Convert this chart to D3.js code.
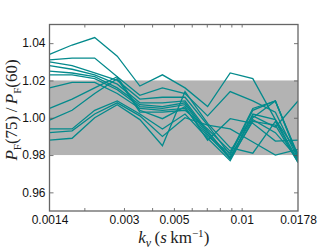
<!DOCTYPE html>
<html>
<head>
<meta charset="utf-8">
<script src="https://cdn.jsdelivr.net/npm/d3@7"></script>
<style>
  html, body { margin: 0; padding: 0; background: #fff; }
  svg { display: block; }
</style>
</head>
<body>
<div id="chart"></div>
<script>
// k_v sample points (s/km)
var kValues = [0.0014, 0.001764, 0.002223, 0.0028, 0.003529, 0.004446, 0.005602, 0.00706, 0.008895, 0.01121, 0.01412, 0.0178];

// P_F(75)/P_F(60) for each realisation
var ratio01 = [1.034, 1.039, 1.043, 1.033, 1.017, 1.023, 1.016, 1.006, 1.024, 1.021, 0.999, 0.981];
var ratio02 = [1.031, 1.032, 1.032, 1.022, 1.012, 1.016, 1.013, 1.001, 1.014, 1.009, 1.003, 0.978];
var ratio03 = [1.030, 1.028, 1.024, 1.020, 1.010, 1.011, 1.011, 0.996, 0.980, 1.004, 1.009, 0.979];
var ratio04 = [1.028, 1.026, 1.023, 1.018, 1.008, 1.008, 1.009, 0.993, 0.978, 1.002, 0.999, 0.977];
var ratio05 = [1.025, 1.024, 1.022, 1.016, 1.007, 1.006, 1.008, 0.992, 0.979, 1.000, 1.009, 0.980];
var ratio06 = [1.023, 1.023, 1.021, 1.015, 1.006, 1.005, 1.007, 0.991, 0.978, 0.998, 0.996, 0.976];
var ratio07 = [1.016, 1.019, 1.019, 1.013, 1.005, 1.004, 1.005, 0.990, 0.981, 1.005, 1.009, 0.979];
var ratio08 = [1.005, 1.010, 1.016, 1.022, 1.004, 0.9995, 1.006, 0.988, 0.9995, 0.997, 0.9875, 0.988];
var ratio09 = [0.9987, 1.004, 1.013, 1.021, 1.003, 1.003, 1.004, 0.994, 0.982, 1.001, 0.995, 1.009];
var ratio10 = [0.994, 0.994, 1.004, 1.009, 1.002, 0.994, 1.002, 0.989, 0.977, 0.999, 0.992, 0.978];
var ratio11 = [0.992, 0.993, 1.002, 1.008, 1.001, 0.990, 1.000, 0.996, 0.994, 0.987, 0.980, 0.983];
var ratio12 = [0.988, 0.989, 1.000, 1.007, 0.999, 0.985, 1.014, 0.997, 0.984, 0.981, 0.998, 0.976];
var allRatios = [ratio01, ratio02, ratio03, ratio04, ratio05, ratio06, ratio07, ratio08, ratio09, ratio10, ratio11, ratio12];

// shaded +-2% band
var band = [0.98, 1.02];

// ticks
var xTickValues = [0.0014, 0.003, 0.005, 0.01, 0.0178];
var xTickLabels = ['0.0014', '0.003', '0.005', '0.01', '0.0178'];
var xMinorTicks = [0.002, 0.003, 0.004, 0.005, 0.006, 0.007, 0.008, 0.009, 0.01];
var yTickValues = [0.96, 0.98, 1.00, 1.02, 1.04];

var svgWidth = 332, svgHeight = 249;
var margin = {top: 24.5, right: 34, bottom: 38, left: 49.5};
var w = svgWidth - margin.left - margin.right;
var h = svgHeight - margin.top - margin.bottom;

var svg = d3.select('#chart').append('svg')
  .attr('width', svgWidth).attr('height', svgHeight);
var g = svg.append('g').attr('transform', 'translate(' + margin.left + ',' + margin.top + ')');

var x = d3.scaleLog().domain([0.0014, 0.0178]).range([0, w]);
var y = d3.scaleLinear().domain([0.95, 1.05]).range([h, 0]);

svg.append('defs').append('clipPath').attr('id', 'clip')
  .append('rect').attr('width', w).attr('height', h);

// band
g.append('rect')
  .attr('x', 0).attr('width', w)
  .attr('y', y(band[1])).attr('height', y(band[0]) - y(band[1]))
  .attr('fill', '#b3b3b3');

var line = d3.line()
  .x(function(d, i) { return x(kValues[i]); })
  .y(function(d) { return y(d); });

g.append('g').attr('clip-path', 'url(#clip)')
  .selectAll('path')
  .data(allRatios)
  .enter()
  .append('path')
  .attr('d', line)
  .attr('fill', 'none')
  .attr('stroke', '#048a8c')
  .attr('stroke-width', 1.3)
  .attr('stroke-linejoin', 'miter');

// axes
var tickFont = '"Liberation Sans", Arial, Helvetica, sans-serif';

var xAxis = g.append('g').attr('transform', 'translate(0,' + h + ')')
  .call(d3.axisBottom(x).tickValues(xTickValues)
    .tickFormat(function(d, i) { return xTickLabels[i]; })
    .tickSize(0).tickPadding(4));
var xMinor = g.append('g').attr('transform', 'translate(0,' + h + ')')
  .call(d3.axisBottom(x).tickValues(xMinorTicks).tickFormat('').tickSizeInner(-3).tickSizeOuter(0));
var xTop = g.append('g')
  .call(d3.axisTop(x).tickValues(xMinorTicks).tickFormat('').tickSizeInner(-3).tickSizeOuter(0));

var yAxis = g.append('g')
  .call(d3.axisLeft(y).tickValues(yTickValues).tickFormat(d3.format('.2f'))
    .tickSizeInner(-4).tickSizeOuter(0).tickPadding(4));
var yRight = g.append('g').attr('transform', 'translate(' + w + ',0)')
  .call(d3.axisRight(y).tickValues(yTickValues).tickFormat('')
    .tickSizeInner(-4).tickSizeOuter(0));

[xAxis, xMinor, xTop, yAxis, yRight].forEach(function(a) {
  a.select('.domain').remove();
  a.selectAll('line').attr('stroke', '#555').attr('stroke-width', 0.8);
  a.selectAll('text').attr('font-family', tickFont).attr('font-size', 12).attr('fill', '#111');
});

// frame
g.append('rect')
  .attr('width', w).attr('height', h)
  .attr('fill', 'none').attr('stroke', '#666').attr('stroke-width', 1.3);

// axis labels
var serif = '"Liberation Serif", "DejaVu Serif", serif';

var xl = svg.append('text')
  .attr('x', margin.left + w / 2).attr('y', 243)
  .attr('text-anchor', 'middle')
  .attr('font-family', serif).attr('font-size', 17).attr('fill', '#222');
xl.append('tspan').attr('font-style', 'italic').text('k');
xl.append('tspan').attr('font-style', 'italic').attr('font-size', 12).attr('dy', 4).text('v');
xl.append('tspan').attr('dy', -4).text('\u2009(');
xl.append('tspan').attr('font-style', 'italic').text('s');
xl.append('tspan').text('\u2009km');
xl.append('tspan').attr('font-size', 11).attr('dy', -6).text('\u22121');
xl.append('tspan').attr('dy', 6).text(')');

var yl = svg.append('text')
  .attr('transform', 'translate(17,' + 110 + ') rotate(-90)')
  .attr('text-anchor', 'middle')
  .attr('font-family', serif).attr('font-size', 17).attr('fill', '#222');
yl.append('tspan').attr('font-style', 'italic').text('P');
yl.append('tspan').attr('font-size', 11).attr('dy', 4).text('F');
yl.append('tspan').attr('dy', -4).text('(75)\u2009/\u2009');
yl.append('tspan').attr('font-style', 'italic').text('P');
yl.append('tspan').attr('font-size', 11).attr('dy', 4).text('F');
yl.append('tspan').attr('dy', -4).text('(60)');
</script>
</body>
</html>
